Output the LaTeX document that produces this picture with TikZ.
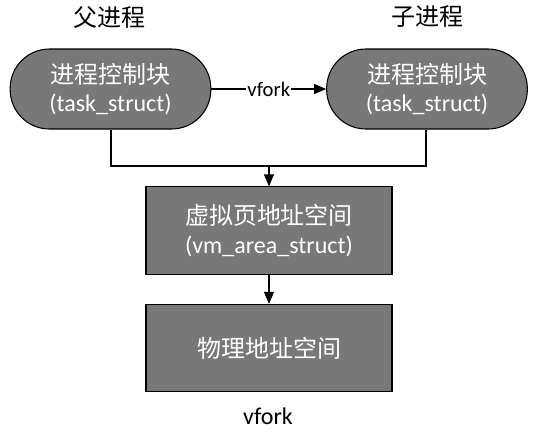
\documentclass[tikz,border=0pt]{standalone}
\usepackage{fontspec}
\setmainfont{Carlito}
\newfontfamily\cjk{Noto Sans CJK SC}
\usetikzlibrary{arrows.meta}
\definecolor{boxgray}{RGB}{120,120,120}
\tikzset{
  proc/.style={draw=black, line width=0.8pt, fill=boxgray, text=white, rounded corners=29.5pt,
    minimum width=150.5pt, minimum height=60pt, align=center, inner sep=0pt,
    font=\fontsize{18}{21.5}\selectfont},
  membox/.style={draw=black, line width=0.8pt, fill=boxgray, text=white,
    minimum width=184.5pt, minimum height=65.5pt, align=center, inner sep=0pt,
    font=\fontsize{18}{21.5}\selectfont},
  title/.style={font=\fontsize{18}{21.5}\selectfont, inner sep=0pt},
  conn/.style={line width=0.8pt, draw=black},
  arr/.style={conn, -{Triangle[length=9pt,width=7.5pt]}},
}
\begin{document}
\begin{tikzpicture}[x=0.75pt,y=-0.75pt]
\useasboundingbox (0,0) rectangle (540,433);
\node[title] (tp) at (110,17) {\cjk 父进程};
\node[title] (tc) at (427,17) {\cjk 子进程};
\node[proc] (pp) at (110.5,89) {{\cjk 进程控制块}\\(task\_struct)};
\node[proc] (pc) at (427,89) {{\cjk 进程控制块}\\(task\_struct)};
\node[membox] (vm) at (269,230.5) {{\cjk 虚拟页地址空间}\\(vm\_area\_struct)};
\node[membox] (pm) at (269,348) {\cjk 物理地址空间};
\node[title] (cap) at (268,416) {vfork};
\draw[arr] (pp.east) -- node[fill=white, inner sep=1pt, font=\fontsize{15.5}{18}\selectfont] {vfork} (pc.west);
\coordinate (jl) at (111,166);
\coordinate (jr) at (426,166);
\coordinate (jm) at (269,166);
\draw[conn] (pp.south -| jl) -- (jl) -- (jr) -- (pc.south -| jr);
\draw[arr] (jm) -- (vm.north);
\draw[arr] (vm.south) -- (pm.north);
\end{tikzpicture}
\end{document}
